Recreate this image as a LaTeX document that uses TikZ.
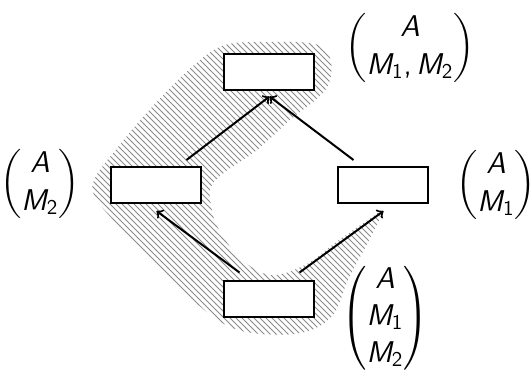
\documentclass[tikz,border=0pt]{standalone}
\usepackage{amsmath}
\usetikzlibrary{patterns}
\newcommand{\sv}[1]{\text{\sffamily\itshape #1}}
\newcommand{\sn}[1]{\text{\sffamily #1}}
\begin{document}
\begin{tikzpicture}[x=0.5pt,y=-0.5pt,
  box/.style={draw,line width=1pt,fill=white,minimum width=45pt,minimum height=18pt,inner sep=0pt},
  arr/.style={->,line width=1pt},
  lbl/.style={font=\fontsize{15}{18.6}\selectfont,inner sep=0pt},
  hatch/.style={pattern=north west lines,pattern color=gray!90}]
\useasboundingbox (0,0) rectangle (532,376);
\fill[hatch] plot[smooth cycle,tension=0.6] coordinates {
 (225,45) (270,42) (315,44) (330,58) (330,80) (320,96) (290,120) (257,150)
 (225,172) (211,187) (211,205) (218,228) (240,258) (270,275) (305,265)
 (335,243) (365,222) (382,212) (368,242) (348,280) (333,315) (305,332)
 (262,334) (228,326) (195,302) (155,262) (118,225) (95,197) (95,178)
 (118,147) (152,107) (193,66)};
\node[box] (ntop) at (269.5,71.5) {};
\node[box] (nlft) at (156.5,185) {};
\node[box] (nrgt) at (383.5,185) {};
\node[box] (nbot) at (269.5,298.5) {};
\draw[arr] ([xshift=-15pt,yshift=3.5pt]nbot.north) -- ([yshift=-3.5pt]nlft.south);
\draw[arr] ([xshift=15pt,yshift=3.5pt]nbot.north) -- ([yshift=-3.5pt]nrgt.south);
\draw[arr] ([xshift=15pt,yshift=3pt]nlft.north) -- ([yshift=-3pt]ntop.south);
\draw[arr] ([xshift=-15pt,yshift=3pt]nrgt.north) -- ([yshift=-3pt]ntop.south);
\node[lbl] (ltop) at (410,48) {$\begin{pmatrix}\sv{A}\\\sv{M}_{\sn{1}}\sn{,}\,\sv{M}_{\sn{2}}\end{pmatrix}$};
\node[lbl] (llft) at (40,184) {$\begin{pmatrix}\sv{A}\\\sv{M}_{\sn{2}}\end{pmatrix}$};
\node[lbl] (lrgt) at (496,185) {$\begin{pmatrix}\sv{A}\\\sv{M}_{\sn{1}}\end{pmatrix}$};
\node[lbl] (lbot) at (385,318) {$\begin{pmatrix}\sv{A}\\\sv{M}_{\sn{1}}\\\sv{M}_{\sn{2}}\end{pmatrix}$};
\end{tikzpicture}
\end{document}
